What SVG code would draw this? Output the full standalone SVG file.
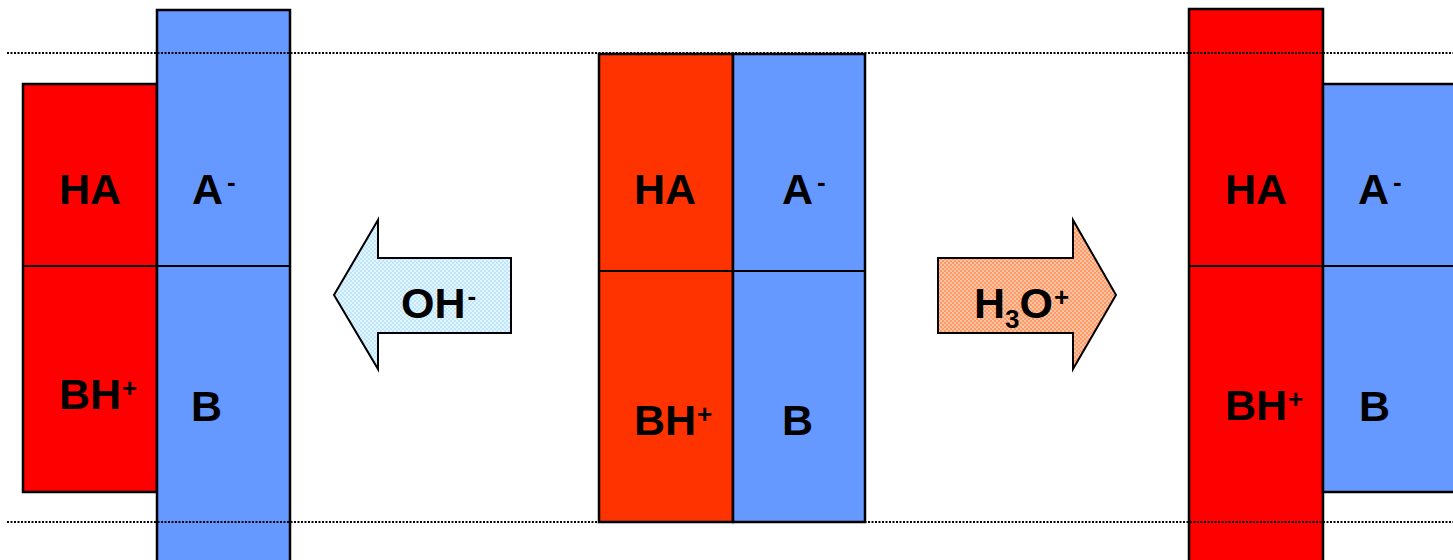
<svg xmlns="http://www.w3.org/2000/svg" width="1453" height="560" viewBox="0 0 1453 560">
  <style>
    .red { fill: #FF0000; stroke: #000; stroke-width: 2.5; }
    .red2 { fill: #FF3300; stroke: #000; stroke-width: 2.5; }
    .blue { fill: #6699FF; stroke: #000; stroke-width: 2.5; }
    .div { stroke: #000; stroke-width: 2; fill: none; }
    .dots { stroke: #000; stroke-width: 2; stroke-dasharray: 2 1.5; fill: none; }
    .lbl { font-family: "Liberation Sans", Arial, sans-serif; font-weight: bold; font-size: 43px; fill: #000; }
    .sup { font-size: 26px; }
    .arrow { stroke: #000; stroke-width: 2; stroke-linejoin: miter; }
  </style>
  <defs>
    <pattern id="pBlue" width="4" height="4" patternUnits="userSpaceOnUse">
      <rect width="4" height="4" fill="#BFE6FB"/>
      <rect width="2" height="2" fill="#E2F5FF"/>
      <rect x="2" y="2" width="2" height="2" fill="#E2F5FF"/>
    </pattern>
    <pattern id="pOrange" width="4" height="4" patternUnits="userSpaceOnUse">
      <rect width="4" height="4" fill="#FF9A66"/>
      <rect width="2" height="2" fill="#FFC4A3"/>
      <rect x="2" y="2" width="2" height="2" fill="#FFC4A3"/>
    </pattern>
  </defs>
  <rect width="1453" height="560" fill="#fff"/>

  <g id="left-column">
    <rect class="red" x="23" y="84" width="134" height="408"/>
    <rect class="blue" x="157" y="10" width="133" height="560"/>
    <line class="div" x1="23" y1="266" x2="290" y2="266"/>
    <text class="lbl" x="59" y="204">HA</text>
    <text class="lbl" x="192" y="204">A<tspan class="sup" dx="4" dy="-13">-</tspan></text>
    <text class="lbl" x="59" y="409">BH<tspan class="sup" dx="1" dy="-12">+</tspan></text>
    <text class="lbl" x="191" y="421">B</text>
  </g>

  <g id="middle-column">
    <rect class="red2" x="599" y="54" width="134" height="468"/>
    <rect class="blue" x="733" y="54" width="132" height="468"/>
    <line class="div" x1="599" y1="271" x2="865" y2="271"/>
    <text class="lbl" x="634" y="204">HA</text>
    <text class="lbl" x="782" y="204">A<tspan class="sup" dx="4" dy="-13">-</tspan></text>
    <text class="lbl" x="634" y="435">BH<tspan class="sup" dx="1" dy="-12">+</tspan></text>
    <text class="lbl" x="782" y="435">B</text>
  </g>

  <g id="right-column">
    <rect class="red" x="1189" y="9" width="134" height="560"/>
    <rect class="blue" x="1323" y="84" width="140" height="408"/>
    <line class="div" x1="1189" y1="266" x2="1453" y2="266"/>
    <text class="lbl" x="1225" y="204">HA</text>
    <text class="lbl" x="1358" y="204">A<tspan class="sup" dx="4" dy="-13">-</tspan></text>
    <text class="lbl" x="1225" y="420">BH<tspan class="sup" dx="1" dy="-12">+</tspan></text>
    <text class="lbl" x="1359" y="421">B</text>
  </g>

  <g id="arrow-oh">
    <polygon class="arrow" fill="url(#pBlue)" points="334,295 378,220 378,258 511,258 511,333 378,333 378,369"/>
    <text class="lbl" x="401" y="318">OH<tspan class="sup" dx="2" dy="-13">-</tspan></text>
  </g>

  <g id="arrow-h3o">
    <polygon class="arrow" fill="url(#pOrange)" points="938,258 1073,258 1073,220 1116,295 1073,369 1073,333 938,333"/>
    <text class="lbl" x="974" y="318">H<tspan class="sup" dy="10">3</tspan><tspan dy="-10">O</tspan><tspan class="sup" dx="1" dy="-12">+</tspan></text>
  </g>

  <g id="connectors">
    <line class="dots" x1="7" y1="53" x2="1453" y2="53"/>
    <line class="dots" x1="7" y1="522" x2="1453" y2="522"/>
  </g>
</svg>
